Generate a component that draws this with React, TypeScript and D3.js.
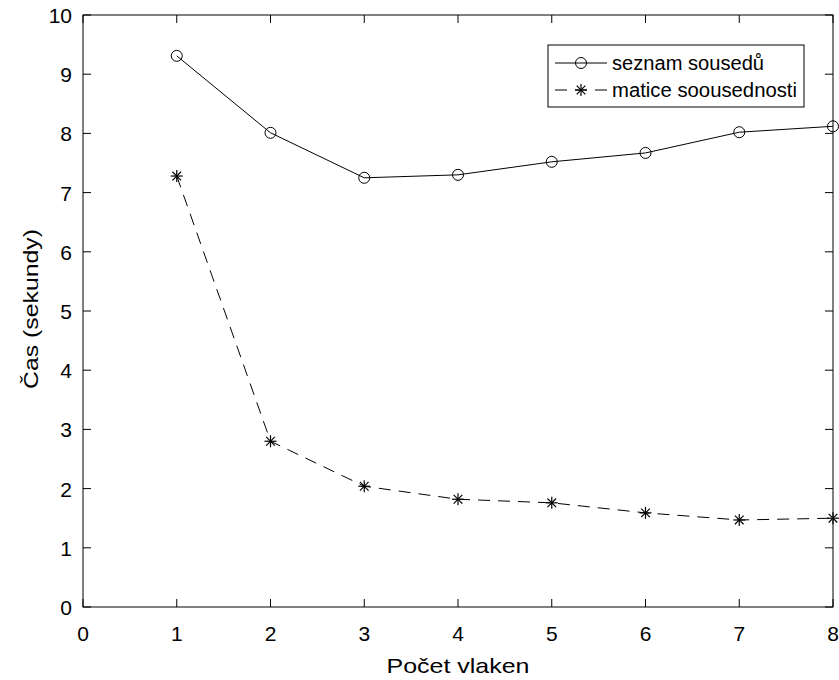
import React from "react";
import * as d3 from "d3";

const threads = [1, 2, 3, 4, 5, 6, 7, 8];
const seznam = [9.31, 8.01, 7.25, 7.3, 7.52, 7.67, 8.02, 8.12];
const matice = [7.28, 2.8, 2.04, 1.82, 1.76, 1.59, 1.47, 1.5];
const xTicks = [0, 1, 2, 3, 4, 5, 6, 7, 8];
const yTicks = [0, 1, 2, 3, 4, 5, 6, 7, 8, 9, 10];
const seriesNames = ["seznam sousedů", "matice soousednosti"];

const W = 839;
const H = 680;
const M = { left: 83, right: 833, top: 15, bottom: 607 };
const FONT = "'Liberation Sans', Arial, Helvetica, sans-serif";
const DASH = "12,8";

function Star({ x, y, r }: { x: number; y: number; r: number }) {
  const d = r * 0.72;
  return (
    <g stroke="#000" strokeWidth={1.2}>
      <line x1={x - r} y1={y} x2={x + r} y2={y} />
      <line x1={x} y1={y - r} x2={x} y2={y + r} />
      <line x1={x - d} y1={y - d} x2={x + d} y2={y + d} />
      <line x1={x - d} y1={y + d} x2={x + d} y2={y - d} />
    </g>
  );
}

export default function App() {
  const x = d3.scaleLinear().domain([0, 8]).range([M.left, M.right]);
  const y = d3.scaleLinear().domain([0, 10]).range([M.bottom, M.top]);
  const line = d3
    .line<number>()
    .x((_, i) => x(threads[i]))
    .y((v) => y(v));
  const tl = 8;
  return (
    <svg
      width={W}
      height={H}
      style={{ position: "absolute", left: 0, top: 0, background: "#fff" }}
      fontFamily={FONT}
    >
      <rect x={0} y={0} width={W} height={H} fill="#fff" />
      <rect
        x={M.left}
        y={M.top}
        width={M.right - M.left}
        height={M.bottom - M.top}
        fill="none"
        stroke="#000"
        strokeWidth={1}
      />
      {xTicks.map((t) => (
        <g key={"xt" + t}>
          <line x1={x(t)} x2={x(t)} y1={M.bottom} y2={M.bottom - tl} stroke="#000" />
          <line x1={x(t)} x2={x(t)} y1={M.top} y2={M.top + tl} stroke="#000" />
          <text x={x(t)} y={641} textAnchor="middle" fontSize={21} fill="#000">
            {t}
          </text>
        </g>
      ))}
      {yTicks.map((t) => (
        <g key={"yt" + t}>
          <line x1={M.left} x2={M.left + tl} y1={y(t)} y2={y(t)} stroke="#000" />
          <line x1={M.right} x2={M.right - tl} y1={y(t)} y2={y(t)} stroke="#000" />
          <text x={72} y={y(t) + 8} textAnchor="end" fontSize={21} fill="#000">
            {t}
          </text>
        </g>
      ))}
      <text
        x={458}
        y={673}
        textAnchor="middle"
        fontSize={21}
        fill="#000"
        textLength={143}
        lengthAdjust="spacingAndGlyphs"
      >
        Počet vlaken
      </text>
      <text
        transform={`translate(38, 309) rotate(-90)`}
        textAnchor="middle"
        fontSize={21}
        fill="#000"
        textLength={160}
        lengthAdjust="spacingAndGlyphs"
      >
        Čas (sekundy)
      </text>
      <path d={line(seznam) || ""} fill="none" stroke="#000" strokeWidth={1} />
      {seznam.map((v, i) => (
        <circle key={"c" + i} cx={x(threads[i])} cy={y(v)} r={5.5} fill="none" stroke="#000" strokeWidth={1} />
      ))}
      <path d={line(matice) || ""} fill="none" stroke="#000" strokeWidth={1} strokeDasharray={DASH} />
      {matice.map((v, i) => (
        <Star key={"s" + i} x={x(threads[i])} y={y(v)} r={6} />
      ))}
      {/* legend */}
      <rect x={548} y={45} width={256} height={62} fill="#fff" stroke="#000" strokeWidth={1} />
      <line x1={555} x2={607} y1={63} y2={63} stroke="#000" />
      <circle cx={581} cy={63} r={5.5} fill="none" stroke="#000" />
      <text
        x={612}
        y={70}
        fontSize={20}
        fill="#000"
        textLength={152}
        lengthAdjust="spacingAndGlyphs"
      >
        {seriesNames[0]}
      </text>
      <line x1={555} x2={607} y1={90} y2={90} stroke="#000" strokeDasharray={DASH} />
      <Star x={581} y={90} r={6} />
      <text
        x={612}
        y={97}
        fontSize={20}
        fill="#000"
        textLength={185}
        lengthAdjust="spacingAndGlyphs"
      >
        {seriesNames[1]}
      </text>
    </svg>
  );
}
